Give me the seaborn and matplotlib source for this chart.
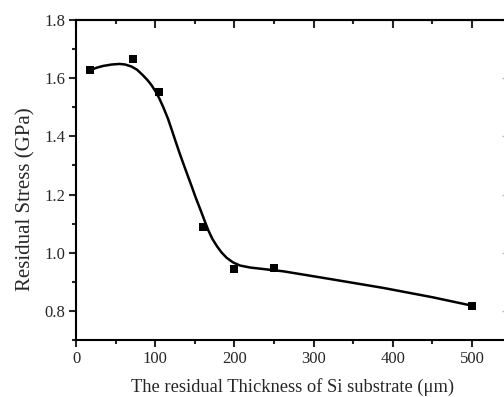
import numpy as np
import pandas as pd
import seaborn as sns
import matplotlib
matplotlib.use('Agg')
from matplotlib import pyplot as plt
from matplotlib.ticker import MultipleLocator, NullFormatter

# measured points
thickness = [18, 72, 105, 160, 200, 250, 500]
stress = [1.628, 1.667, 1.553, 1.088, 0.943, 0.949, 0.816]

# smooth fit curve
curve_x = [18, 26, 34, 45, 55, 62, 70, 77, 84, 90, 95, 100, 105, 110, 116, 121, 126, 131, 136, 141, 146,
           151, 157, 162, 167, 172, 178, 184, 190, 198, 207, 220, 233, 262, 320, 388, 450, 500]
curve_y = [1.628, 1.636, 1.642, 1.647, 1.649, 1.647, 1.640, 1.629, 1.611, 1.594, 1.577, 1.556, 1.531, 1.501,
           1.461, 1.421, 1.380, 1.340, 1.302, 1.265, 1.228, 1.19, 1.148, 1.112, 1.077, 1.048, 1.022, 1.0,
           0.983, 0.967, 0.956, 0.949, 0.945, 0.936, 0.91, 0.879, 0.847, 0.818]

pts = pd.DataFrame({'x': thickness, 'y': stress})
fit = pd.DataFrame({'x': curve_x, 'y': curve_y})

sns.set_style('ticks')
plt.rcParams['font.family'] = ['Liberation Serif', 'DejaVu Serif']

fig = plt.figure(figsize=(5.04, 3.97), dpi=100)
ax = fig.add_axes([0.151, 0.1436, 0.853, 0.806])

sns.lineplot(data=fit, x='x', y='y', color='black', linewidth=1.8, ax=ax)
sns.scatterplot(data=pts, x='x', y='y', marker='s', color='black', s=40,
                edgecolor='black', linewidth=0, ax=ax, zorder=3)

ax.set_xlim(0, 543)
ax.set_ylim(0.7, 1.8)
ax.xaxis.set_major_locator(MultipleLocator(100))
ax.xaxis.set_minor_locator(MultipleLocator(50))
ax.yaxis.set_major_locator(MultipleLocator(0.2))
ax.yaxis.set_minor_locator(MultipleLocator(0.1))
ax.set_xticks([0, 100, 200, 300, 400, 500])
ax.set_xticklabels(['0', '100', '200', '300', '400', '500'])
ax.set_yticks([0.8, 1.0, 1.2, 1.4, 1.6, 1.8])
ax.set_yticklabels(['0.8', '1.0', '1.2', '1.4', '1.6', '1.8'])

for s in ax.spines.values():
    s.set_linewidth(1.5)
    s.set_color('black')

ax.tick_params(which='both', direction='out', width=1.5, labelsize=12, pad=3)
ax.tick_params(which='major', length=5)
ax.tick_params(which='minor', length=3)

# top and right axes have inward ticks, no labels
top = ax.secondary_xaxis('top')
top.xaxis.set_major_locator(MultipleLocator(100))
top.xaxis.set_minor_locator(MultipleLocator(50))
top.xaxis.set_major_formatter(NullFormatter())
top.tick_params(which='both', direction='in', width=1.5)
top.tick_params(which='major', length=5.5)
top.tick_params(which='minor', length=3)
top.spines['top'].set_linewidth(1.5)

right = ax.secondary_yaxis('right')
right.yaxis.set_major_locator(MultipleLocator(0.2))
right.yaxis.set_minor_locator(MultipleLocator(0.1))
right.yaxis.set_major_formatter(NullFormatter())
right.tick_params(which='both', direction='in', width=1.0, color='#bbbbbb')
right.tick_params(which='major', length=3)
right.tick_params(which='minor', length=0)
right.spines['right'].set_visible(False)

ax.set_xlabel('The residual Thickness of Si substrate (μm)', fontsize=13.3)
ax.xaxis.set_label_coords(0.5045, -0.12)
ax.set_ylabel('Residual Stress (GPa)', fontsize=15)
ax.yaxis.set_label_coords(-0.095, 0.44)

fig.savefig('out.png', dpi=100)
